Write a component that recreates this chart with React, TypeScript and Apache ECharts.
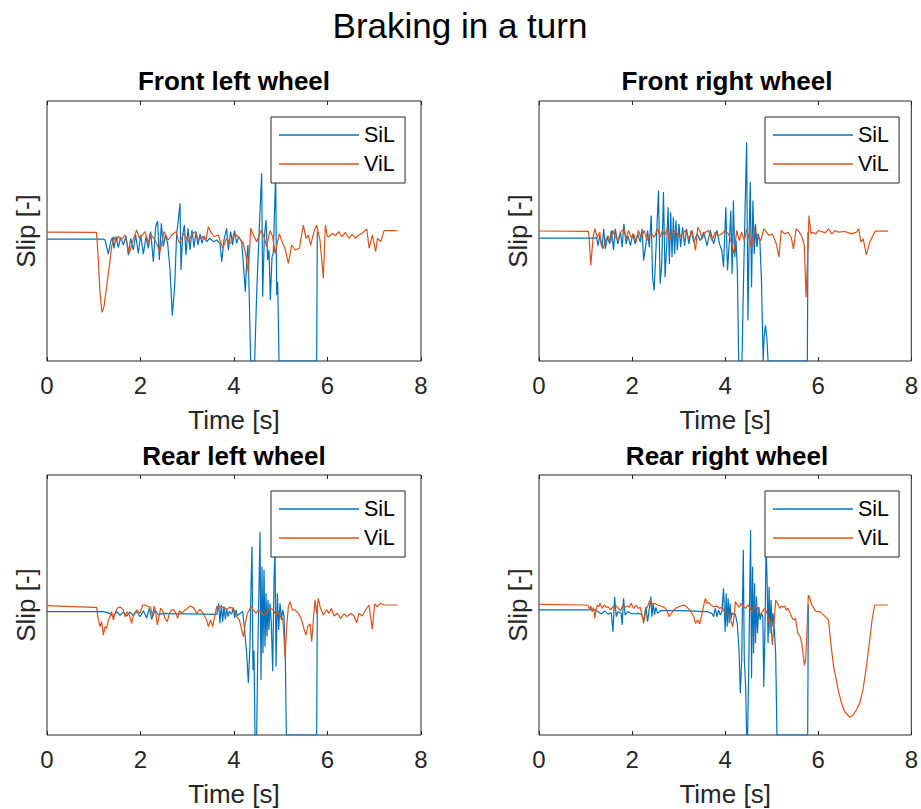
import React, { useEffect, useRef } from "react";
import * as echarts from "echarts";

type Pt = [number, number];

// Figure texts
const figureTitle = "Braking in a turn";
const panelTitles = ["Front left wheel", "Front right wheel", "Rear left wheel", "Rear right wheel"];
const seriesNames = ["SiL", "ViL"];
const xAxisName = "Time [s]";
const yAxisName = "Slip [-]";
const xMin = 0;
const xMax = 8;
const xStep = 2;
const yMin = -1;
const yMax = 1;

// Wheel slip traces: [time (s), slip]
const flSiL: Pt[] = [
  [0, -0.062], [1.205, -0.062], [1.241, -0.069], [1.312, -0.177], [1.362, -0.082], [1.398, -0.049],
  [1.433, -0.133], [1.476, -0.044], [1.526, -0.126], [1.576, -0.049], [1.633, -0.108], [1.69, -0.038],
  [1.74, -0.185], [1.79, -0.056], [1.847, -0.146], [1.897, -0.031], [1.954, -0.172], [2.004, -0.031],
  [2.061, -0.179], [2.118, -0.044], [2.168, -0.133], [2.217, -0.005], [2.275, -0.236], [2.324, 0.033],
  [2.367, 0.077], [2.403, -0.223], [2.446, 0.059], [2.488, -0.121], [2.531, -0.031], [2.581, -0.095],
  [2.631, -0.3], [2.681, -0.651], [2.731, -0.426], [2.774, -0.018], [2.809, 0.085], [2.845, 0.213],
  [2.866, -0.3], [2.902, -0.031], [2.938, 0.046], [2.973, -0.185], [3.016, 0.021], [3.059, -0.146],
  [3.102, 0.008], [3.144, -0.126], [3.187, -0.005], [3.23, -0.108], [3.273, -0.023], [3.316, -0.095],
  [3.358, -0.038], [3.415, -0.082], [3.487, -0.056], [3.558, -0.082], [3.629, -0.069], [3.701, -0.095],
  [3.737, -0.236], [3.786, -0.069], [3.843, 0.021], [3.879, -0.146], [3.929, -0.005], [3.971, -0.108],
  [4.014, 0.003], [4.057, -0.095], [4.1, -0.044], [4.164, -0.082], [4.214, -0.326], [4.243, -0.467],
  [4.271, -0.223], [4.299, -0.108], [4.328, -0.531], [4.357, -1], [4.442, -1], [4.485, -0.479],
  [4.542, 0.033], [4.592, 0.444], [4.613, -0.505], [4.649, -0.044], [4.685, 0.085], [4.72, -0.223],
  [4.749, -0.146], [4.777, -0.531], [4.813, -0.199], [4.841, -0.172], [4.87, 0.187], [4.891, 0.45],
  [4.913, -0.492], [4.934, -0.39], [4.963, -1], [5.768, -1], [5.782, -0.005],
];
const flViL: Pt[] = [
  [0, -0.008], [1.06, -0.01], [1.098, -0.223], [1.134, -0.479], [1.177, -0.626], [1.219, -0.582],
  [1.276, -0.428], [1.333, -0.274], [1.383, -0.121], [1.433, -0.044], [1.476, -0.082], [1.526, -0.038],
  [1.58, -0.07], [1.669, -0.031], [1.761, -0.172], [1.85, -0.06], [1.918, 0.008], [1.975, -0.056],
  [2.096, -0.005], [2.168, -0.095], [2.203, -0.018], [2.31, -0.069], [2.417, -0.159], [2.503, -0.005],
  [2.595, -0.069], [2.667, -0.031], [2.759, -0.005], [2.831, -0.095], [2.93, -0.018], [3.023, -0.082],
  [3.094, -0.031], [3.166, -0.005], [3.237, -0.069], [3.33, -0.044], [3.401, -0.069], [3.451, 0.033],
  [3.501, -0.005], [3.572, -0.044], [3.665, -0.031], [3.758, -0.133], [3.843, -0.056], [3.929, -0.095],
  [4.0, -0.018], [4.093, -0.044], [4.2, -0.095], [4.271, -0.223], [4.307, -0.326], [4.357, 0.021],
  [4.414, -0.031], [4.485, -0.082], [4.585, 0.008], [4.642, -0.044], [4.699, -0.121], [4.77, 0.003],
  [4.827, -0.044], [4.877, -0.172], [4.97, -0.023], [5.041, -0.095], [5.091, -0.133], [5.163, -0.249],
  [5.234, -0.108], [5.305, -0.146], [5.398, -0.133], [5.483, 0.046], [5.54, -0.056], [5.59, -0.031],
  [5.64, -0.108], [5.711, -0.005], [5.768, 0.046], [5.839, -0.069], [5.911, -0.364], [5.954, 0.046],
  [5.997, -0.044], [6.03, -0.044], [6.1, -0.018], [6.17, -0.036], [6.24, -0.005], [6.31, -0.044],
  [6.38, -0.01], [6.46, -0.056], [6.53, -0.026], [6.6, -0.056], [6.67, -0.031], [6.74, -0.018],
  [6.84, 0.015], [6.89, -0.133], [6.96, -0.031], [7.03, -0.159], [7.07, -0.056], [7.14, -0.082],
  [7.21, 0.003], [7.49, 0.003],
];

const frSiL: Pt[] = [
  [0, -0.055], [1.199, -0.055], [1.234, -0.047], [1.27, -0.112], [1.305, -0.035], [1.355, -0.124],
  [1.39, 0.017], [1.426, -0.137], [1.468, -0.047], [1.518, -0.099], [1.553, 0.004], [1.603, -0.145],
  [1.638, 0.017], [1.695, -0.099], [1.752, -0.009], [1.787, -0.124], [1.823, 0.055], [1.872, -0.099],
  [1.908, -0.035], [1.965, -0.112], [2.014, -0.022], [2.064, -0.099], [2.121, -0.022], [2.177, -0.086],
  [2.213, 0.017], [2.248, -0.227], [2.298, -0.099], [2.333, 0.004], [2.369, -0.124], [2.411, 0.119],
  [2.44, -0.355], [2.475, -0.458], [2.518, -0.099], [2.567, 0.312], [2.603, -0.406], [2.638, -0.253],
  [2.674, 0.299], [2.709, -0.355], [2.745, -0.099], [2.773, 0.183], [2.801, -0.253], [2.83, 0.145],
  [2.858, -0.201], [2.887, 0.106], [2.915, -0.176], [2.943, 0.081], [2.972, -0.15], [3.007, 0.055],
  [3.043, -0.125], [3.085, 0.029], [3.128, -0.112], [3.17, 0.017], [3.22, -0.099], [3.27, 0.004],
  [3.326, -0.086], [3.397, -0.022], [3.468, -0.073], [3.539, -0.009], [3.61, -0.112], [3.681, 0.004],
  [3.752, -0.099], [3.823, 0.004], [3.879, -0.099], [3.929, -0.15], [3.965, -0.278], [4.014, 0.183],
  [4.05, -0.304], [4.092, -0.073], [4.121, 0.158], [4.149, -0.33], [4.177, 0.235], [4.206, -0.201],
  [4.234, -0.073], [4.262, -0.304], [4.291, -1], [4.362, -1], [4.39, -0.458], [4.426, 0.132],
  [4.461, 0.683], [4.489, -0.688], [4.518, 0.004], [4.539, 0.376], [4.567, -0.432], [4.596, 0.235],
  [4.624, -0.176], [4.652, 0.055], [4.681, -0.124], [4.709, -0.022], [4.745, -0.073], [4.78, -0.381],
  [4.816, -1], [4.837, -0.816], [4.865, -0.726], [4.894, -0.816], [4.922, -1], [5.766, -1],
  [5.78, -0.009],
];
const frViL: Pt[] = [
  [0, 0], [1.06, -0.003], [1.071, -0.02], [1.113, -0.265], [1.163, -0.048], [1.199, 0.017],
  [1.255, -0.048], [1.305, -0.009], [1.34, -0.112], [1.376, -0.137], [1.426, -0.073], [1.482, -0.035],
  [1.539, -0.086], [1.589, 0.004], [1.624, -0.035], [1.695, -0.073], [1.752, -0.009], [1.823, 0.017],
  [1.872, -0.06], [1.922, 0.004], [1.979, -0.048], [2.035, -0.022], [2.085, -0.086], [2.135, 0.004],
  [2.191, -0.048], [2.262, 0.004], [2.319, -0.073], [2.369, -0.035], [2.418, -0.022], [2.475, -0.048],
  [2.546, 0.017], [2.603, -0.048], [2.652, 0.004], [2.702, -0.035], [2.759, 0.029], [2.801, -0.073],
  [2.865, -0.022], [2.936, 0.004], [3.007, -0.048], [3.078, -0.022], [3.149, 0.004], [3.22, -0.06],
  [3.291, 0.004], [3.362, -0.15], [3.411, 0.029], [3.454, 0.004], [3.504, -0.06], [3.574, -0.009],
  [3.645, 0.004], [3.716, -0.073], [3.787, -0.009], [3.858, -0.035], [3.929, -0.022], [4.0, 0.004],
  [4.071, -0.022], [4.142, -0.099], [4.191, -0.176], [4.248, 0.004], [4.305, -0.073], [4.355, -0.009],
  [4.411, -0.073], [4.461, 0.017], [4.511, -0.048], [4.567, -0.137], [4.617, 0.029], [4.674, -0.022],
  [4.723, -0.06], [4.766, -0.073], [4.83, 0.017], [4.887, -0.009], [4.943, -0.035], [5.014, -0.022],
  [5.099, -0.099], [5.156, -0.201], [5.206, 0.004], [5.277, -0.022], [5.348, -0.009], [5.418, -0.048],
  [5.468, -0.137], [5.525, 0.017], [5.596, -0.009], [5.652, -0.048], [5.702, -0.112], [5.738, -0.509],
  [5.773, -0.201], [5.801, 0.119], [5.844, -0.022], [5.879, -0.009], [5.95, -0.022], [6.007, 0.004],
  [6.149, -0.014], [6.22, 0.017], [6.291, -0.022], [6.362, 0.004], [6.433, -0.009], [6.574, -0.004],
  [6.716, -0.022], [6.823, -0.009], [6.872, 0.017], [6.915, -0.086], [6.965, -0.06], [7.035, -0.183],
  [7.106, -0.086], [7.177, -0.035], [7.227, -0.001], [7.497, -0.001],
];

const rlSiL: Pt[] = [
  [0, -0.051], [1.205, -0.051], [1.348, -0.064], [1.419, -0.09], [1.49, -0.05], [1.561, -0.08],
  [1.633, -0.055], [1.704, -0.085], [1.775, -0.055], [1.847, -0.082], [1.918, -0.05], [1.989, -0.09],
  [2.061, -0.045], [2.132, -0.1], [2.189, -0.025], [2.239, -0.11], [2.31, -0.04], [2.381, -0.075],
  [2.488, -0.065], [2.774, -0.068], [3.059, -0.068], [3.345, -0.07], [3.63, -0.072], [3.672, 0.013],
  [3.7, -0.14], [3.729, 0.0], [3.758, -0.13], [3.786, -0.01], [3.815, -0.11], [3.843, -0.03],
  [3.872, -0.09], [3.9, -0.05], [3.95, -0.07], [3.986, -0.02], [4.014, -0.1], [4.043, -0.04],
  [4.071, -0.08], [4.128, -0.065], [4.185, -0.05], [4.228, -0.2], [4.271, -0.37], [4.307, -0.6],
  [4.342, -0.3], [4.364, 0.15], [4.385, 0.449], [4.406, -0.5], [4.428, -0.35], [4.449, -1],
  [4.485, -1], [4.506, -0.423], [4.535, 0.141], [4.556, 0.564], [4.578, -0.577], [4.599, 0.295],
  [4.62, -0.372], [4.642, 0.269], [4.663, -0.321], [4.685, 0.09], [4.706, -0.244], [4.727, 0.038],
  [4.749, -0.192], [4.77, 0.013], [4.799, -0.141], [4.827, -0.51], [4.856, 0.192], [4.877, 0.42],
  [4.899, -0.474], [4.927, 0.09], [4.956, -0.192], [4.984, 0.013], [5.013, -0.115], [5.041, -0.038],
  [5.07, -0.09], [5.098, -0.42], [5.12, -1], [5.768, -1], [5.782, 0.0],
];
const rlViL: Pt[] = [
  [0, -0.005], [1.0, -0.018], [1.062, -0.018], [1.098, -0.115], [1.134, -0.167], [1.17, -0.128],
  [1.205, -0.231], [1.241, -0.167], [1.276, -0.179], [1.312, -0.115], [1.348, -0.09], [1.383, -0.051],
  [1.419, -0.115], [1.455, -0.064], [1.49, -0.033], [1.526, -0.018], [1.576, -0.018], [1.633, -0.038],
  [1.669, -0.09], [1.719, -0.051], [1.761, -0.077], [1.811, -0.141], [1.847, -0.077], [1.918, -0.038],
  [1.989, -0.064], [2.046, 0.0], [2.096, 0.0], [2.168, -0.013], [2.218, -0.018], [2.26, -0.09],
  [2.289, -0.008], [2.324, -0.051], [2.36, -0.154], [2.403, -0.077], [2.431, -0.026], [2.474, -0.044],
  [2.524, -0.103], [2.574, -0.128], [2.617, -0.064], [2.66, -0.038], [2.717, -0.038], [2.759, -0.064],
  [2.795, -0.103], [2.831, -0.044], [2.881, -0.064], [2.952, -0.038], [3.002, -0.026], [3.059, -0.008],
  [3.13, -0.018], [3.201, -0.064], [3.273, -0.033], [3.344, -0.069], [3.415, -0.115], [3.451, -0.167],
  [3.501, -0.115], [3.544, -0.167], [3.594, -0.077], [3.63, -0.013], [3.701, -0.013], [3.772, -0.018],
  [3.843, -0.033], [3.914, -0.018], [3.986, -0.026], [4.057, -0.09], [4.114, -0.115], [4.164, -0.192],
  [4.2, -0.244], [4.243, -0.141], [4.285, -0.064], [4.328, -0.038], [4.364, -0.008], [4.414, -0.038],
  [4.471, -0.064], [4.521, -0.038], [4.57, -0.051], [4.627, -0.077], [4.684, -0.064], [4.734, -0.038],
  [4.784, -0.026], [4.841, -0.038], [4.898, -0.077], [4.948, -0.051], [4.998, -0.09], [5.041, -0.103],
  [5.07, -0.244], [5.091, -0.397], [5.127, -0.167], [5.163, -0.013], [5.198, 0.026], [5.248, -0.038],
  [5.305, -0.038], [5.376, -0.064], [5.448, -0.115], [5.483, -0.167], [5.54, -0.231], [5.576, -0.167],
  [5.626, -0.146], [5.662, -0.282], [5.697, -0.115], [5.733, 0.038], [5.768, -0.064], [5.804, 0.051],
  [5.84, -0.013], [5.911, -0.077], [5.983, -0.038], [6.032, -0.064], [6.082, -0.026], [6.139, -0.085],
  [6.21, -0.064], [6.282, -0.103], [6.353, -0.069], [6.424, -0.09], [6.496, -0.064], [6.567, -0.085],
  [6.624, -0.136], [6.674, -0.064], [6.745, -0.085], [6.816, -0.038], [6.888, 0.0], [6.959, -0.187],
  [7.009, 0.008], [7.066, -0.013], [7.137, 0.013], [7.209, 0.0], [7.494, 0.0],
];

const rrSiL: Pt[] = [
  [0, -0.038], [1.199, -0.038], [1.27, -0.05], [1.34, -0.07], [1.411, -0.045], [1.482, -0.07],
  [1.553, -0.06], [1.589, -0.205], [1.624, 0.064], [1.66, -0.09], [1.695, -0.051], [1.766, -0.064],
  [1.787, -0.154], [1.816, 0.051], [1.851, -0.077], [1.908, -0.051], [1.979, -0.064], [2.05, -0.069],
  [2.121, -0.064], [2.191, -0.069], [2.262, -0.115], [2.298, -0.013], [2.333, -0.128], [2.376, -0.013],
  [2.404, 0.064], [2.426, -0.09], [2.454, 0.013], [2.482, -0.077], [2.511, -0.018], [2.546, -0.064],
  [2.617, -0.044], [3.043, -0.044], [3.61, -0.051], [3.716, -0.064], [3.752, -0.09], [3.787, -0.026],
  [3.823, -0.09], [3.858, -0.038], [3.894, -0.077], [3.929, -0.051], [3.965, 0.128], [4.0, -0.205],
  [4.021, 0.09], [4.043, -0.167], [4.064, 0.051], [4.085, -0.141], [4.106, 0.013], [4.128, -0.103],
  [4.149, -0.064], [4.22, -0.072], [4.262, -0.15], [4.298, -0.35], [4.326, -0.679], [4.355, -0.423],
  [4.376, 0.1], [4.39, 0.423], [4.411, -0.423], [4.44, -0.628], [4.461, -1], [4.482, -1],
  [4.504, -0.551], [4.525, 0.013], [4.546, 0.577], [4.567, -0.564], [4.589, 0.295], [4.61, -0.372],
  [4.631, 0.167], [4.652, -0.295], [4.674, 0.064], [4.695, -0.218], [4.723, -0.013], [4.752, -0.115],
  [4.78, -0.064], [4.809, -0.09], [4.83, -0.628], [4.858, -0.115], [4.879, 0.45], [4.901, 0.192],
  [4.922, -0.295], [4.943, 0.141], [4.965, -0.218], [4.986, 0.038], [5.007, -0.167], [5.028, -0.064],
  [5.057, -0.192], [5.085, -0.372], [5.113, -1], [5.773, -1], [5.787, 0.0],
];
const rrViL: Pt[] = [
  [0, 0.005], [1.0, 0.0], [1.057, -0.008], [1.092, -0.033], [1.113, -0.008], [1.142, -0.051],
  [1.17, -0.018], [1.199, -0.103], [1.227, -0.038], [1.255, 0.0], [1.284, -0.013], [1.312, 0.013],
  [1.355, -0.026], [1.397, 0.0], [1.447, -0.018], [1.482, -0.013], [1.539, -0.038], [1.589, -0.013],
  [1.624, -0.026], [1.66, -0.008], [1.709, -0.026], [1.752, -0.044], [1.801, 0.0], [1.851, -0.018],
  [1.894, -0.008], [1.943, -0.018], [1.979, 0.013], [2.035, -0.026], [2.085, 0.0], [2.135, -0.026],
  [2.177, -0.018], [2.213, -0.077], [2.248, -0.141], [2.284, -0.038], [2.333, -0.013], [2.369, 0.026],
  [2.404, 0.038], [2.44, 0.0], [2.489, 0.013], [2.546, 0.0], [2.617, -0.008], [2.688, -0.018],
  [2.745, -0.038], [2.794, -0.09], [2.844, -0.064], [2.901, -0.038], [2.972, -0.018], [3.043, -0.008],
  [3.113, 0.0], [3.184, -0.018], [3.255, -0.044], [3.326, -0.09], [3.362, -0.141], [3.411, -0.115],
  [3.454, -0.146], [3.489, -0.09], [3.525, -0.026], [3.574, 0.051], [3.61, 0.013], [3.645, 0.018],
  [3.695, 0.0], [3.752, -0.013], [3.823, -0.008], [3.879, -0.026], [3.929, -0.018], [3.986, -0.051],
  [4.035, -0.064], [4.078, -0.077], [4.121, -0.115], [4.163, -0.167], [4.191, -0.09], [4.22, 0.026],
  [4.262, 0.0], [4.305, -0.018], [4.34, 0.013], [4.39, -0.013], [4.44, -0.026], [4.482, 0.0],
  [4.532, -0.018], [4.574, -0.051], [4.617, -0.026], [4.66, 0.0], [4.709, -0.038], [4.759, -0.077],
  [4.801, -0.051], [4.851, -0.026], [4.901, -0.064], [4.943, -0.128], [4.979, -0.115], [5.014, -0.308],
  [5.05, -0.141], [5.085, 0.038], [5.128, 0.013], [5.17, -0.026], [5.206, -0.008], [5.241, -0.018],
  [5.277, -0.008], [5.312, -0.038], [5.348, -0.026], [5.383, -0.051], [5.426, -0.09], [5.468, -0.115],
  [5.511, -0.103], [5.56, -0.218], [5.596, -0.231], [5.624, -0.256], [5.645, -0.295], [5.674, -0.372],
  [5.702, -0.462], [5.73, -0.423], [5.759, -0.192], [5.787, 0.077], [5.823, 0.051], [5.858, 0.0],
  [5.894, -0.013], [5.922, -0.038], [5.965, -0.051], [6.03, -0.05], [6.08, -0.064], [6.15, -0.09],
  [6.22, -0.115], [6.27, -0.295], [6.33, -0.474], [6.36, -0.526], [6.43, -0.654], [6.5, -0.756],
  [6.57, -0.821], [6.68, -0.864], [6.75, -0.846], [6.82, -0.808], [6.89, -0.756], [6.96, -0.654],
  [7.035, -0.474], [7.106, -0.269], [7.156, -0.115], [7.213, 0.0], [7.497, 0.0],
];

const panelSiL: Pt[][] = [flSiL, frSiL, rlSiL, rrSiL];
const panelViL: Pt[][] = [flViL, frViL, rlViL, rrViL];

const SIL_COLOR = "#0072BD";
const VIL_COLOR = "#D95319";
const AXIS_COLOR = "#262626";
const FONT = "'Liberation Sans', Arial, Helvetica, sans-serif";

// Plot rectangles of the 2x2 layout (pixels)
const panelBoxes = [
  { left: 47, top: 101, width: 374, height: 260 },
  { left: 539, top: 101, width: 376, height: 260 },
  { left: 47, top: 475, width: 374, height: 260 },
  { left: 539, top: 475, width: 376, height: 260 },
];

function buildOption(): echarts.EChartsOption {
  const grid: any[] = [];
  const xAxis: any[] = [];
  const yAxis: any[] = [];
  const series: any[] = [];
  const legend: any[] = [];
  const title: any[] = [
    {
      text: figureTitle,
      left: 460,
      top: 8,
      textAlign: "center",
      textVerticalAlign: "top",
      padding: 0,
      textStyle: { fontSize: 35, fontWeight: "normal", color: "#000", fontFamily: FONT },
    },
  ];

  panelBoxes.forEach((box, i) => {
    grid.push({
      ...box,
      show: true,
      backgroundColor: "#fff",
      borderColor: AXIS_COLOR,
      borderWidth: 1,
      containLabel: false,
    });

    const tickStyle = { inside: true, length: 4, lineStyle: { color: AXIS_COLOR, width: 1 } };
    xAxis.push({
      type: "value",
      gridIndex: i,
      position: "bottom",
      min: xMin,
      max: xMax,
      interval: xStep,
      axisLine: { show: false, onZero: false },
      axisTick: tickStyle,
      splitLine: { show: false },
      axisLabel: { fontSize: 24, color: AXIS_COLOR, margin: 12, fontFamily: FONT },
      name: xAxisName,
      nameLocation: "middle",
      nameGap: 46,
      nameTextStyle: { fontSize: 26, color: AXIS_COLOR, fontFamily: FONT },
    });
    xAxis.push({
      type: "value",
      gridIndex: i,
      position: "top",
      min: xMin,
      max: xMax,
      interval: xStep,
      axisLine: { show: false, onZero: false },
      axisTick: tickStyle,
      splitLine: { show: false },
      axisLabel: { show: false },
    });
    yAxis.push({
      type: "value",
      gridIndex: i,
      min: yMin,
      max: yMax,
      axisLine: { show: false, onZero: false },
      axisTick: { show: false },
      axisLabel: { show: false },
      splitLine: { show: false },
      name: yAxisName,
      nameLocation: "middle",
      nameRotate: 90,
      nameGap: 8,
      nameTextStyle: { fontSize: 26, color: AXIS_COLOR, fontFamily: FONT },
    });

    series.push({
      name: seriesNames[0],
      type: "line",
      xAxisIndex: 2 * i,
      yAxisIndex: i,
      data: panelSiL[i],
      symbol: "none",
      showSymbol: false,
      clip: true,
      lineStyle: { color: SIL_COLOR, width: 1.2 },
      itemStyle: { color: SIL_COLOR },
      z: 2,
    });
    series.push({
      name: seriesNames[1],
      type: "line",
      xAxisIndex: 2 * i,
      yAxisIndex: i,
      data: panelViL[i],
      symbol: "none",
      showSymbol: false,
      clip: true,
      lineStyle: { color: VIL_COLOR, width: 1.2 },
      itemStyle: { color: VIL_COLOR },
      z: 3,
    });

    legend.push({
      data: seriesNames,
      orient: "vertical",
      left: box.left + box.width - 150,
      top: box.top + 16,
      align: "left",
      icon: "rect",
      itemWidth: 80,
      itemHeight: 1.5,
      itemGap: 7,
      padding: [7, 10, 8, 8],
      backgroundColor: "#fff",
      borderColor: AXIS_COLOR,
      borderWidth: 1,
      borderRadius: 0,
      selectedMode: false,
      itemStyle: { borderWidth: 0 },
      textStyle: { fontSize: 21.5, lineHeight: 22, color: "#000", fontFamily: FONT },
      z: 10,
    });

    title.push({
      text: panelTitles[i],
      left: box.left + box.width / 2,
      top: i < 2 ? 68 : 443,
      textAlign: "center",
      textVerticalAlign: "top",
      padding: 0,
      textStyle: { fontSize: 26, fontWeight: "bold", color: "#000", fontFamily: FONT },
    });
  });

  return {
    animation: false,
    backgroundColor: "#fff",
    title,
    grid,
    xAxis,
    yAxis,
    legend,
    series,
  };
}

export default function App() {
  const ref = useRef<HTMLDivElement>(null);

  useEffect(() => {
    if (!ref.current) return;
    const chart = echarts.init(ref.current, undefined, { renderer: "svg" });
    chart.setOption(buildOption());
    return () => chart.dispose();
  }, []);

  return (
    <div
      ref={ref}
      style={{ position: "absolute", left: 0, top: 0, width: 921, height: 809, background: "#fff" }}
    />
  );
}
